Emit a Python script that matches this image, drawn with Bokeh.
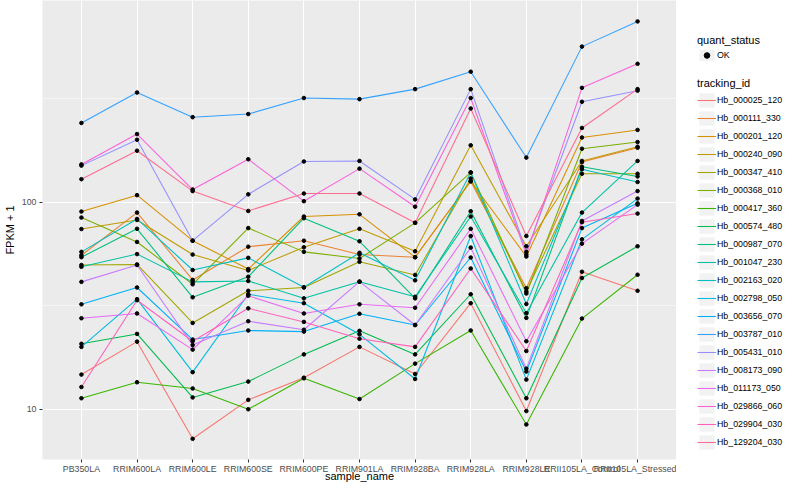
from bokeh.plotting import figure
from bokeh.layouts import row
from bokeh.models import (FactorRange, Range1d, FixedTicker, Legend, LegendItem,
                          BasicTickFormatter)
from bokeh.embed import file_html
from bokeh.resources import INLINE

samples = ["PB350LA", "RRIM600LA", "RRIM600LE", "RRIM600SE", "RRIM600PE", "RRIM901LA",
           "RRIM928BA", "RRIM928LA", "RRIM928LE", "RRII105LA_Control", "RRII105LA_Stressed"]

tracking_ids = ["Hb_000025_120", "Hb_000111_330", "Hb_000201_120", "Hb_000240_090",
                "Hb_000347_410", "Hb_000368_010", "Hb_000417_360", "Hb_000574_480",
                "Hb_000987_070", "Hb_001047_230", "Hb_002163_020", "Hb_002798_050",
                "Hb_003656_070", "Hb_003787_010", "Hb_005431_010", "Hb_008173_090",
                "Hb_011173_050", "Hb_029866_060", "Hb_029904_030", "Hb_129204_030"]

colors = ["#F8766D", "#EA8331", "#D89000", "#C09B00", "#A3A500", "#7CAE00", "#39B600",
          "#00BB4E", "#00BF7D", "#00C1A3", "#00BFC4", "#00BAE0", "#00B0F6", "#35A2FF",
          "#9590FF", "#C77CFF", "#E76BF3", "#FA62DB", "#FF62BC", "#FF6C91"]

# FPKM + 1 per sample (order of `samples`)
hb_000025_120 = [14.7, 21.2, 7.2, 11.1, 14.2, 20.0, 14.8, 32.5, 9.8, 46.1, 37.3]
hb_000111_330 = [55.4, 89.0, 42.1, 60.9, 65.1, 55.8, 54.2, 126, 38.4, 156, 183]
hb_000201_120 = [90.0, 108, 65.1, 47.5, 85.2, 87.3, 54.2, 126, 54.6, 205, 223]
hb_000240_090 = [74.1, 82.0, 55.8, 46.8, 60.5, 74.3, 57.9, 188, 61.2, 158, 185]
hb_000347_410 = [49.7, 50.0, 26.1, 37.3, 38.7, 51.5, 44.5, 130, 37.0, 137, 137]
hb_000368_010 = [84.2, 64.2, 40.1, 74.9, 57.5, 53.4, 79.4, 139, 36.2, 181, 195]
hb_000417_360 = [11.3, 13.5, 12.6, 10.0, 14.1, 11.2, 16.6, 24.0, 8.44, 27.4, 44.6]
hb_000574_480 = [20.7, 23.1, 11.4, 13.6, 18.4, 23.9, 18.4, 35.9, 11.3, 43.0, 61.2]
hb_000987_070 = [54.2, 74.3, 34.7, 43.6, 83.6, 64.7, 34.3, 90.3, 27.6, 148, 133]
hb_001047_230 = [48.7, 56.1, 41.2, 41.6, 34.3, 41.3, 34.9, 85.2, 29.1, 89.0, 158]
hb_002163_020 = [57.5, 82.9, 47.0, 53.8, 38.8, 56.9, 41.9, 139, 32.2, 144, 125]
hb_002798_050 = [20.0, 34.0, 15.1, 35.9, 32.5, 23.0, 14.0, 68.6, 13.9, 66.1, 104]
hb_003656_070 = [32.1, 38.7, 21.7, 24.0, 23.7, 28.9, 25.5, 54.0, 15.2, 74.9, 98.6]
hb_003787_010 = [241, 338, 257, 266, 318, 314, 351, 426, 164, 563, 745]
hb_005431_010 = [150, 200, 65.1, 109, 157, 158, 103, 351, 57.5, 305, 345]
hb_008173_090 = [41.2, 49.7, 20.4, 26.6, 24.2, 41.3, 25.5, 60.3, 15.7, 81.1, 113]
hb_011173_050 = [27.5, 29.0, 19.4, 35.3, 29.0, 32.1, 30.9, 74.3, 21.3, 63.0, 97.2]
hb_029866_060 = [152, 213, 115, 161, 101, 145, 95.0, 318, 55.8, 356, 465]
hb_029904_030 = [12.8, 33.6, 21.3, 30.7, 26.4, 21.9, 20.0, 47.8, 19.1, 80.0, 88.0]
hb_129204_030 = [129, 177, 113, 90.6, 110, 110, 79.4, 283, 68.6, 228, 351]

series_values = [hb_000025_120, hb_000111_330, hb_000201_120, hb_000240_090, hb_000347_410,
                 hb_000368_010, hb_000417_360, hb_000574_480, hb_000987_070, hb_001047_230,
                 hb_002163_020, hb_002798_050, hb_003656_070, hb_003787_010, hb_005431_010,
                 hb_008173_090, hb_011173_050, hb_029866_060, hb_029904_030, hb_129204_030]

FONT = "Liberation Sans"

p = figure(width=676, height=484,
           x_range=FactorRange(factors=samples, range_padding=0.2, range_padding_units="absolute"),
           y_axis_type="log", y_range=Range1d(5.72, 940),
           output_backend="svg", toolbar_location=None,
           min_border_left=32, min_border_right=0, min_border_top=0, min_border_bottom=10)
p.background_fill_color = "#EBEBEB"
p.border_fill_color = "white"
p.outline_line_color = None

for col, vals in zip(colors, series_values):
    p.line(x=samples, y=vals, line_color=col, line_width=1.07)

xs = [s for vals in series_values for s in samples]
ys = [v for vals in series_values for v in vals]
p.scatter(x=xs, y=ys, size=3.6, color="black")

# axes
yt = FixedTicker(ticks=[10, 100], minor_ticks=[3.162, 31.62, 316.2])
p.yaxis.ticker = yt
p.ygrid.ticker = yt
p.yaxis.formatter = BasicTickFormatter(use_scientific=False)

for ax in (p.xaxis, p.yaxis):
    ax.axis_line_color = None
    ax.major_tick_in = 0
    ax.major_tick_out = 3
    ax.major_tick_line_color = "#333333"
    ax.major_tick_line_width = 1.07
    ax.minor_tick_line_color = None
    ax.major_label_text_font = FONT
    ax.major_label_text_font_size = "8.8px"
    ax.major_label_text_color = "#4D4D4D"
    ax.major_label_standoff = 2
    ax.axis_label_text_font = FONT
    ax.axis_label_text_font_size = "11px"
    ax.axis_label_text_font_style = "normal"
    ax.axis_label_text_color = "black"
p.xaxis.major_label_standoff = 1
p.xaxis.axis_label_standoff = -7
p.yaxis.axis_label_standoff = 3

p.xaxis.axis_label = "sample_name"
p.yaxis.axis_label = "FPKM + 1"

p.xgrid.grid_line_color = "white"
p.xgrid.grid_line_width = 1.07
p.ygrid.grid_line_color = "white"
p.ygrid.grid_line_width = 1.07
p.ygrid.minor_grid_line_color = "white"
p.ygrid.minor_grid_line_width = 0.53

# legend panel: key glyphs kept outside this panel's visible ranges,
# they only serve as legend keys
lp = figure(width=108, height=484, output_backend="svg", toolbar_location=None,
            x_axis_type=None, y_axis_type=None, min_border=0,
            x_range=Range1d(0, 1), y_range=Range1d(0, 1))
lp.grid.visible = False
lp.outline_line_color = None
lp.background_fill_color = "white"
lp.border_fill_color = "white"

bg = lp.quad(left=[-3], right=[-2], top=[-2], bottom=[-3], fill_color="#F2F2F2",
             line_color=None)
key_pt = lp.scatter(x=[-3], y=[-3], size=3.6, color="black")
key_lines = [lp.line(x=[-3, -2], y=[-3, -3], line_color=c, line_width=1.07)
             for c in colors]

leg1 = Legend(items=[LegendItem(label="OK", renderers=[bg, key_pt])],
              title="quant_status", location=(21, 397))
leg2 = Legend(items=[LegendItem(label=t, renderers=[bg, r])
                     for t, r in zip(tracking_ids, key_lines)],
              title="tracking_id", location=(21, 8))
for lg, gh in ((leg1, 14), (leg2, 18)):
    lg.title_text_font = FONT
    lg.title_text_font_size = "11px"
    lg.title_text_font_style = "normal"
    lg.title_text_color = "black"
    lg.title_standoff = 2
    lg.label_text_font = FONT
    lg.label_text_font_size = "8.8px"
    lg.label_text_color = "black"
    lg.label_standoff = 1
    lg.label_height = gh
    lg.label_width = 10
    lg.glyph_width = 19
    lg.glyph_height = gh
    lg.spacing = 0
    lg.padding = 0
    lg.margin = 0
    lg.border_line_color = None
    lg.background_fill_alpha = 0
    lg.inactive_fill_alpha = 0
    lp.add_layout(lg, "center")

layout = row(p, lp)
open("out.html", "w").write(file_html(layout, INLINE))
